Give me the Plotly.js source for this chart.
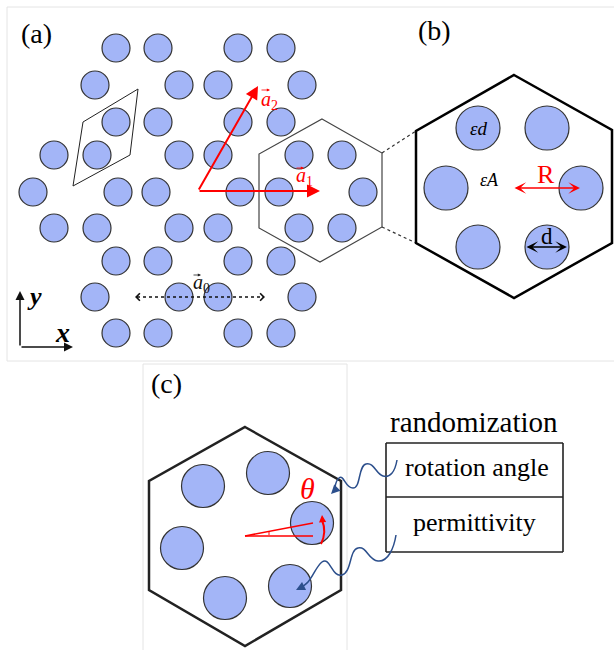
<!DOCTYPE html>
<html><head><meta charset="utf-8">
<script src="https://cdn.plot.ly/plotly-3.0.1.min.js"></script>
<style>html,body{margin:0;padding:0;background:#fff}#plot{width:614px;height:650px}</style>
</head><body><div id="plot"></div>
<script>
// Panel (a): lattice rod centres (pixel units of the figure)
const aCx = [116,158,238,281, 95,179,218,302, 116,158,238,281, 54,97,179,218,299,342,
             33,118,156,240,279,363, 54,97,179,218,299,342, 116,158,238,281, 95,179,218,302, 116,158,238,281];
const aCy = [48,48,48,48, 85,85,85,85, 122,122,122,122, 155,155,155,155,155,155,
             192,192,192,192,192,192, 228,228,228,228,228,228, 261,261,261,261, 297,297,297,297, 333,333,333,333];
const aR = 14;
// Panel (b): unit-cell rods
const bCx = [478,547,446,581,478,547];
const bCy = [128,128,188,188,247,247];
const bR = 22;
// Panel (c): randomized unit-cell rods
const cCx = [203,268,182,312,225,290];
const cCy = [486,473,548,523,598,586];
const cR = 21.5;
// Hexagons
const hexA = [[322,119],[382,153],[382,227],[320,262],[259,228],[259,154]];
const hexB = [[514,75],[612,130],[612,243],[514,298],[416,243],[416,131]];
const hexC = [[245,427],[341,481],[341,590],[245,646],[149,590],[149,481]];
const cellA = [[138,89],[83,122],[73,186],[130,155]];
// Table labels
const tableTitle = "randomization";
const tableRows = ["rotation angle","permittivity"];

const fill = "#a3b5f7", edge = "#333333";
const serif = "Liberation Serif, Times New Roman, serif";
const shapes = [];
const ann = [];
function line(x0,y0,x1,y1,color,width,dash){shapes.push({type:'line',xref:'x',yref:'y',x0,y0,x1,y1,line:{color,width,dash:dash||'solid'}});}
function poly(pts,color,width){shapes.push({type:'path',xref:'x',yref:'y',path:'M '+pts.map(p=>p.join(' ')).join(' L ')+' Z',line:{color,width}});}
function circ(cx,cy,r){shapes.push({type:'circle',xref:'x',yref:'y',x0:cx-r,x1:cx+r,y0:cy-r,y1:cy+r,fillcolor:fill,line:{color:edge,width:1.2}});}
function text(x,y,t,size,color,extra){ann.push(Object.assign({x,y,xref:'x',yref:'y',text:t,showarrow:false,font:{family:serif,size,color:color||'#000'}},extra||{}));}
function arrow(x,y,ax,ay,color,width,head,size,side){ann.push({x,y,ax,ay,xref:'x',yref:'y',axref:'x',ayref:'y',text:'',showarrow:true,arrowcolor:color,arrowwidth:width,arrowhead:head,arrowsize:size,arrowside:side||'end',startarrowhead:head,startarrowsize:size,standoff:0,startstandoff:0});}

// panel borders
const g = "#e4e4e4";
line(7,7,614,7,g,1); line(7,7,7,361,g,1); line(7,361,614,361,g,1);
line(143,364,347,364,g,1); line(143,364,143,650,g,1); line(347,364,347,650,g,1);

// panel (a)
for(let i=0;i<aCx.length;i++) circ(aCx[i],aCy[i],aR);
poly(cellA,'#222',1);
poly(hexA,'#444',1.2);
line(382,153,416,131,'#333',1.2,'dot'); line(382,227,416,243,'#333',1.2,'dot');
line(137,297,263,297,'#111',1.5,'dot');
// panel (b)
for(let i=0;i<bCx.length;i++) circ(bCx[i],bCy[i],bR);
poly(hexB,'#000',2.5);
// panel (c)
for(let i=0;i<cCx.length;i++) circ(cCx[i],cCy[i],cR);
poly(hexC,'#222',2.5);
line(245,536,313,536,'#f00',1.6); line(245,536,313,523,'#f00',1.6); line(269,531,269,535,'#f00',1);
shapes.push({type:'path',xref:'x',yref:'y',path:'M 321 544 Q 327 532 322 520',line:{color:'#f00',width:2}});
// table
line(386,443,563,443,'#222',1.6); line(386,497,563,497,'#222',1.6); line(386,552,563,552,'#222',1.6);
line(386,443,386,552,'#222',1.6); line(563,443,563,552,'#222',1.6);
// wavy arrows
const blue = '#2c4f8c';
shapes.push({type:'path',xref:'x',yref:'y',path:'M 397 460 C 395 472, 390 478, 383 476 S 374 462, 366 464 S 361 488, 353 488 S 344 474, 339 478 S 336 490, 333 492',line:{color:blue,width:1.5}});
shapes.push({type:'path',xref:'x',yref:'y',path:'M 396 535 C 394 548, 388 562, 378 561 S 367 546, 358 548 S 352 572, 342 575 S 330 556, 322 562 S 312 584, 299 588',line:{color:blue,width:1.5}});
arrow(331,494,335,490,blue,1.5,2,1.2);
arrow(296,590,300,588,blue,1.5,2,1.2);

// red lattice vectors
arrow(320,191,198,191,'#f00',2,2,1.3);
arrow(258,86,198,191,'#f00',2,2,1.3);
// small vector arrows over labels
arrow(270,90,260,90,'#f00',0.8,2,0.8);
arrow(304,168,295,168,'#f00',0.8,2,0.8);
arrow(201,275,192,275,'#222',0.8,2,0.8);
// a0 arrow heads
arrow(135,297,139,297,'#111',1.2,4,1.2);
arrow(265,297,261,297,'#111',1.2,4,1.2);
// coordinate indicator
arrow(20,291,20,347,'#111',1.5,2,1.2);
arrow(73,347,20,347,'#111',1.5,2,1.2);
// R and d arrows
arrow(580,188,513,188,'#f00',1.5,3,1.3,'end+start');
arrow(567,247,525,247,'#000',1.5,3,1.3,'end+start');
// theta arrow head
arrow(322,515,322.5,521,'#f00',1.6,2,0.9);

// texts
text(36,33,'(a)',28);
text(434,30,'(b)',28);
text(166,383,'(c)',28);
text(259,100,'<i>a</i><sub>2</sub>',20,'#f00',{xanchor:'left'});
text(294,176,'<i>a</i><sub>1</sub>',20,'#f00',{xanchor:'left'});
text(191,283,'<i>a</i><sub>0</sub>',20,'#111',{xanchor:'left'});
text(34,296,'<b><i>y</i></b>',26);
text(62,332,'<b><i>x</i></b>',28);
text(478,128,'<i>εd</i>',19);
text(489,180,'<i>εA</i>',18);
text(546,174,'R',26,'#f00');
text(547,236,'d',23);
text(307,488,'<i>θ</i>',30,'#f00');
text(474,422,tableTitle,29);
text(477,467,tableRows[0],26);
text(474,522,tableRows[1],26);

Plotly.newPlot('plot',[{x:[0],y:[0],mode:'markers',marker:{opacity:0},hoverinfo:'skip'}],{
  width:614,height:650,margin:{l:0,r:0,t:0,b:0},
  paper_bgcolor:'#fff',plot_bgcolor:'#fff',showlegend:false,
  xaxis:{range:[0,614],visible:false,fixedrange:true},
  yaxis:{range:[650,0],visible:false,fixedrange:true},
  shapes,annotations:ann
},{staticPlot:true});
</script></body></html>
